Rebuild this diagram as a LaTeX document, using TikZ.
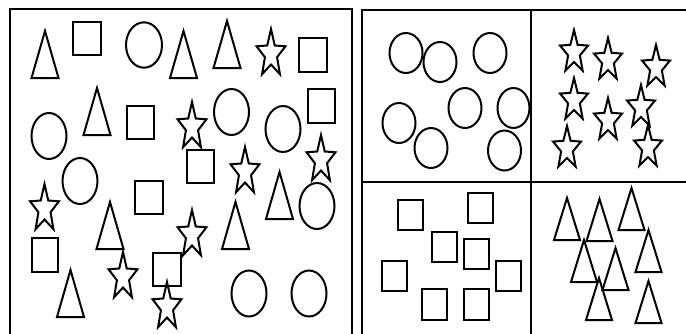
\documentclass[tikz,border=0pt]{standalone}
\usetikzlibrary{calc}
\tikzset{
  shapeline/.style={draw=black, line width=2pt, line join=miter},
  frameline/.style={draw=black, line width=2.3pt},
  starshape/.pic={\draw[shapeline] (0,-1) -- (0.247,-0.340) -- (0.951,-0.309) -- (0.399,0.130) -- (0.588,0.809) -- (0,0.42) -- (-0.588,0.809) -- (-0.399,0.130) -- (-0.951,-0.309) -- (-0.247,-0.340) -- cycle;},
  trishape/.pic={\draw[shapeline] (0,0) -- (0.5,1) -- (-0.5,1) -- cycle;},
  bigstar/.style={xscale=15.2, yscale=25},
  smallstar/.style={xscale=14.7, yscale=22.5},
  bigtri/.style={xscale=27, yscale=47},
  smalltri/.style={xscale=26, yscale=42}
}
\begin{document}
\begin{tikzpicture}[x=1pt,y=-1pt]
\useasboundingbox (0,0) rectangle (686,333);
\clip (0,0) rectangle (686,333);
\fill[white] (0,0) rectangle (686,333);
% frames
\draw[frameline] (10,345) -- (10,9) -- (352,9) -- (352,345);
\draw[frameline] (362,345) -- (362,10) -- (700,10);
\draw[frameline] (531,10) -- (531,345);
\draw[frameline] (362,182) -- (700,182);
% left box: triangles
\pic[bigtri] at (45,31) {trishape};
\pic[bigtri] at (97,88) {trishape};
\pic[bigtri] at (183.5,31) {trishape};
\pic[bigtri] at (227,21) {trishape};
\pic[bigtri] at (110,202) {trishape};
\pic[bigtri] at (70.5,270) {trishape};
\pic[bigtri] at (279.5,172) {trishape};
\pic[bigtri] at (235.5,202) {trishape};
% left box: squares
\draw[shapeline] (73,22) rectangle (101,55);
\draw[shapeline] (127,106) rectangle (154,139);
\draw[shapeline] (299,38) rectangle (327,72);
\draw[shapeline] (308,89) rectangle (335,123);
\draw[shapeline] (187,150) rectangle (214,183);
\draw[shapeline] (135,181) rectangle (163,214);
\draw[shapeline] (32,238) rectangle (58,272);
\draw[shapeline] (153,253) rectangle (181,286);
% left box: ellipses
\draw[shapeline] (144,45) ellipse [x radius=18pt, y radius=22.7pt];
\draw[shapeline] (49,136) ellipse [x radius=17.5pt, y radius=23pt];
\draw[shapeline] (80,181) ellipse [x radius=17.5pt, y radius=23pt];
\draw[shapeline] (231.5,112) ellipse [x radius=17.5pt, y radius=23pt];
\draw[shapeline] (283,129) ellipse [x radius=17.5pt, y radius=23pt];
\draw[shapeline] (317,206) ellipse [x radius=17.5pt, y radius=23pt];
\draw[shapeline] (249,293.5) ellipse [x radius=17.5pt, y radius=23pt];
\draw[shapeline] (309,293.5) ellipse [x radius=17.5pt, y radius=23pt];
% left box: stars
\pic[bigstar] at (271,54) {starshape};
\pic[bigstar] at (192,127) {starshape};
\pic[bigstar] at (321,160) {starshape};
\pic[bigstar] at (245,172) {starshape};
\pic[bigstar] at (44.5,209) {starshape};
\pic[bigstar] at (123,277) {starshape};
\pic[bigstar] at (167,307) {starshape};
\pic[bigstar] at (192,235) {starshape};
% right box: circles
\draw[shapeline] (406,53) ellipse [x radius=16.5pt, y radius=20pt];
\draw[shapeline] (440,62) ellipse [x radius=16.5pt, y radius=20pt];
\draw[shapeline] (490,53) ellipse [x radius=16.5pt, y radius=20pt];
\draw[shapeline] (465,108) ellipse [x radius=16.5pt, y radius=20pt];
\draw[shapeline] (513.5,108) ellipse [x radius=16pt, y radius=20pt];
\draw[shapeline] (399,123) ellipse [x radius=16.5pt, y radius=20pt];
\draw[shapeline] (431,148) ellipse [x radius=16.5pt, y radius=20pt];
\draw[shapeline] (504.5,150.5) ellipse [x radius=16.5pt, y radius=20pt];
% right box: stars
\pic[smallstar] at (574,52.5) {starshape};
\pic[smallstar] at (608,60.5) {starshape};
\pic[smallstar] at (656,67.5) {starshape};
\pic[smallstar] at (574,100.5) {starshape};
\pic[smallstar] at (608,120.5) {starshape};
\pic[smallstar] at (641,107.5) {starshape};
\pic[smallstar] at (567,148.5) {starshape};
\pic[smallstar] at (648,147.5) {starshape};
% right box: squares
\draw[shapeline] (398,200) rectangle (423,230);
\draw[shapeline] (468,193) rectangle (493,223);
\draw[shapeline] (432,232) rectangle (457,262);
\draw[shapeline] (464,239) rectangle (489,269);
\draw[shapeline] (382,261) rectangle (407,291);
\draw[shapeline] (496,261) rectangle (521,291);
\draw[shapeline] (422,289) rectangle (447,320);
\draw[shapeline] (464,289) rectangle (489,320);
% right box: triangles
\pic[smalltri] at (567,198) {trishape};
\pic[smalltri] at (599.5,199) {trishape};
\pic[smalltri] at (631.5,188) {trishape};
\pic[smalltri] at (584,240) {trishape};
\pic[smalltri] at (615.5,248) {trishape};
\pic[smalltri] at (648.5,230) {trishape};
\pic[smalltri] at (599,278) {trishape};
\pic[smalltri] at (648.5,281) {trishape};
\end{tikzpicture}
\end{document}
